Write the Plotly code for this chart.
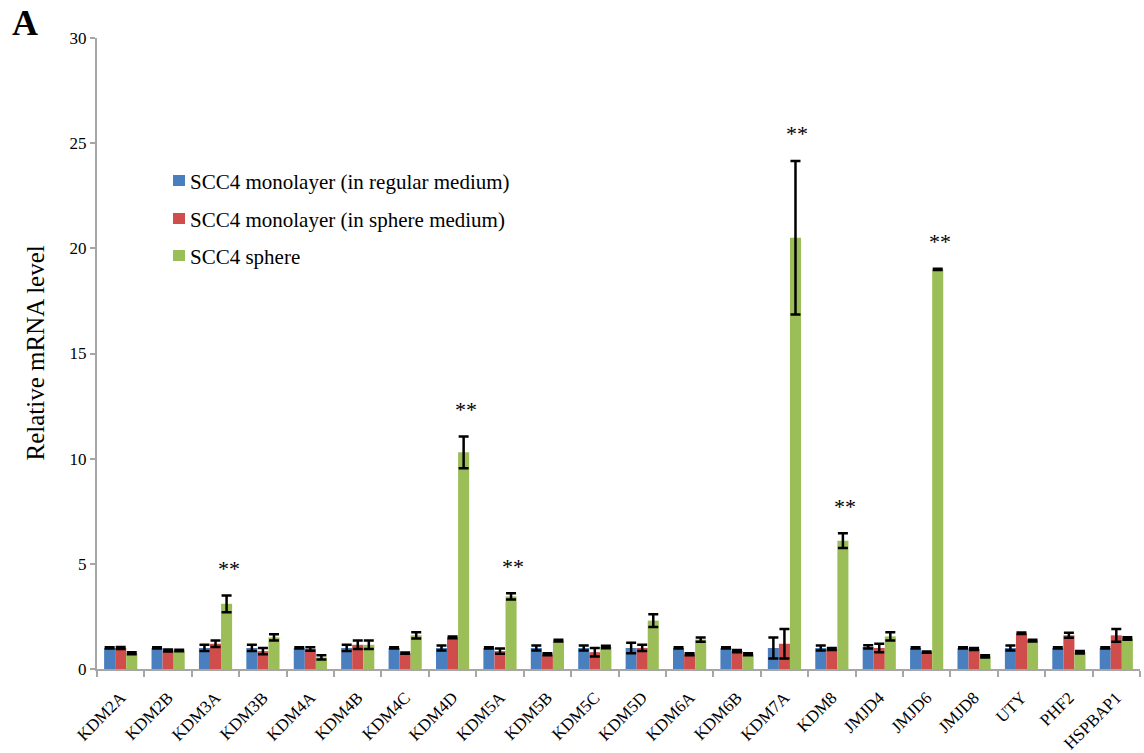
import plotly.graph_objects as go

# Relative mRNA levels of histone demethylases in SCC4 cells
genes = ["KDM2A", "KDM2B", "KDM3A", "KDM3B", "KDM4A", "KDM4B", "KDM4C", "KDM4D",
         "KDM5A", "KDM5B", "KDM5C", "KDM5D", "KDM6A", "KDM6B", "KDM7A", "KDM8",
         "JMJD4", "JMJD6", "JMJD8", "UTY", "PHF2", "HSPBAP1"]

mono_regular = [1.0, 1.0, 1.0, 1.0, 1.0, 1.0, 1.0, 1.0, 1.0, 1.0, 1.0,
                1.0, 1.0, 1.0, 1.0, 1.0, 1.05, 1.0, 1.0, 1.0, 1.0, 1.0]
mono_regular_err = [0.03, 0.03, 0.15, 0.15, 0.03, 0.15, 0.03, 0.12, 0.03, 0.12, 0.12,
                    0.25, 0.03, 0.03, 0.5, 0.12, 0.08, 0.03, 0.03, 0.12, 0.03, 0.03]

mono_sphere = [1.0, 0.88, 1.2, 0.85, 0.95, 1.15, 0.75, 1.5, 0.85, 0.7, 0.8,
               1.0, 0.7, 0.85, 1.2, 0.95, 1.0, 0.8, 0.95, 1.7, 1.6, 1.6]
mono_sphere_err = [0.05, 0.05, 0.15, 0.15, 0.08, 0.2, 0.03, 0.04, 0.12, 0.05, 0.2,
                   0.15, 0.05, 0.05, 0.7, 0.05, 0.2, 0.03, 0.05, 0.04, 0.12, 0.3]

sphere = [0.75, 0.88, 3.1, 1.5, 0.55, 1.15, 1.6, 10.3, 3.45, 1.35, 1.05,
          2.3, 1.4, 0.7, 20.5, 6.1, 1.55, 19.0, 0.6, 1.35, 0.8, 1.45]
sphere_err = [0.05, 0.04, 0.4, 0.15, 0.1, 0.2, 0.15, 0.75, 0.15, 0.04, 0.06,
              0.3, 0.1, 0.05, 3.65, 0.35, 0.2, 0.03, 0.05, 0.04, 0.06, 0.06]

# genes significantly up-regulated in spheres
significant = ["KDM3A", "KDM4D", "KDM5A", "KDM7A", "KDM8", "JMJD6"]

serif = "Liberation Serif"

series = [
    ("SCC4 monolayer (in regular medium)", mono_regular, mono_regular_err, "#4A7FBF"),
    ("SCC4 monolayer (in sphere medium)", mono_sphere, mono_sphere_err, "#CF4D4A"),
    ("SCC4 sphere", sphere, sphere_err, "#9CBE58"),
]

# plot area in pixels (used for the key placed inside the axes)
W, H = 1144, 753
L, R, T, B = 97, 4, 38, 84
pw, ph = W - L - R, H - T - B


def px_x(p):
    return (p - L) / pw


def px_y(p):
    return (H - B - p) / ph


fig = go.Figure()
for i, (name, vals, errs, color) in enumerate(series):
    fig.add_trace(go.Bar(
        x=genes, y=vals, name=name, showlegend=False,
        marker=dict(color=color, line=dict(width=0)),
        error_y=dict(type="data", array=errs, visible=True,
                     color="black", thickness=2.5, width=5),
    ))

# key: coloured squares with series names
key_rows = [181, 219, 256]
for (name, _, _, color), cy in zip(series, key_rows):
    fig.add_shape(
        type="rect", xref="paper", yref="paper",
        x0=px_x(173), x1=px_x(185), y0=px_y(cy + 5), y1=px_y(cy - 6),
        fillcolor=color, line=dict(width=0),
    )
    fig.add_annotation(
        xref="paper", yref="paper", x=px_x(188), y=px_y(cy + 1),
        text=name, showarrow=False, xanchor="left", yanchor="middle",
        font=dict(family=serif, size=21, color="black"),
    )

for g in significant:
    k = genes.index(g)
    fig.add_annotation(
        x=g, y=sphere[k] + sphere_err[k] + 0.6, xref="x", yref="y",
        text="**", showarrow=False, yanchor="bottom", xshift=13,
        font=dict(family=serif, size=22, color="black"),
    )

fig.add_annotation(
    xref="paper", yref="paper", x=0, y=0.5, xshift=-62,
    text="Relative mRNA level", textangle=-90, showarrow=False,
    xanchor="center", yanchor="middle",
    font=dict(family=serif, size=25, color="black"),
)
fig.add_annotation(
    xref="paper", yref="paper", x=0, y=1, xshift=-87, yshift=37,
    text="<b>A</b>", showarrow=False, xanchor="left", yanchor="top",
    font=dict(family=serif, size=36, color="black"),
)

fig.update_layout(
    width=W, height=H,
    margin=dict(l=L, r=R, t=T, b=B),
    paper_bgcolor="white", plot_bgcolor="white",
    barmode="group", bargap=0.3, bargroupgap=0,
    font=dict(family=serif, color="black"),
    showlegend=False,
)
fig.update_yaxes(
    range=[0, 30], tickvals=[0, 5, 10, 15, 20, 25, 30],
    showgrid=False, zeroline=False,
    showline=True, linecolor="#A6A6A6", linewidth=2,
    ticks="outside", ticklen=5, tickcolor="#A6A6A6", tickwidth=2,
    tickfont=dict(family=serif, size=17, color="black"),
    automargin=False,
)
fig.update_xaxes(
    showgrid=False, showline=True, linecolor="#A6A6A6", linewidth=2,
    ticks="outside", tickson="boundaries", ticklen=6,
    tickcolor="#A6A6A6", tickwidth=2, tickangle=-45,
    ticklabelstandoff=10,
    tickfont=dict(family=serif, size=17, color="black"),
    automargin=False,
)

fig.write_html("out.html")
